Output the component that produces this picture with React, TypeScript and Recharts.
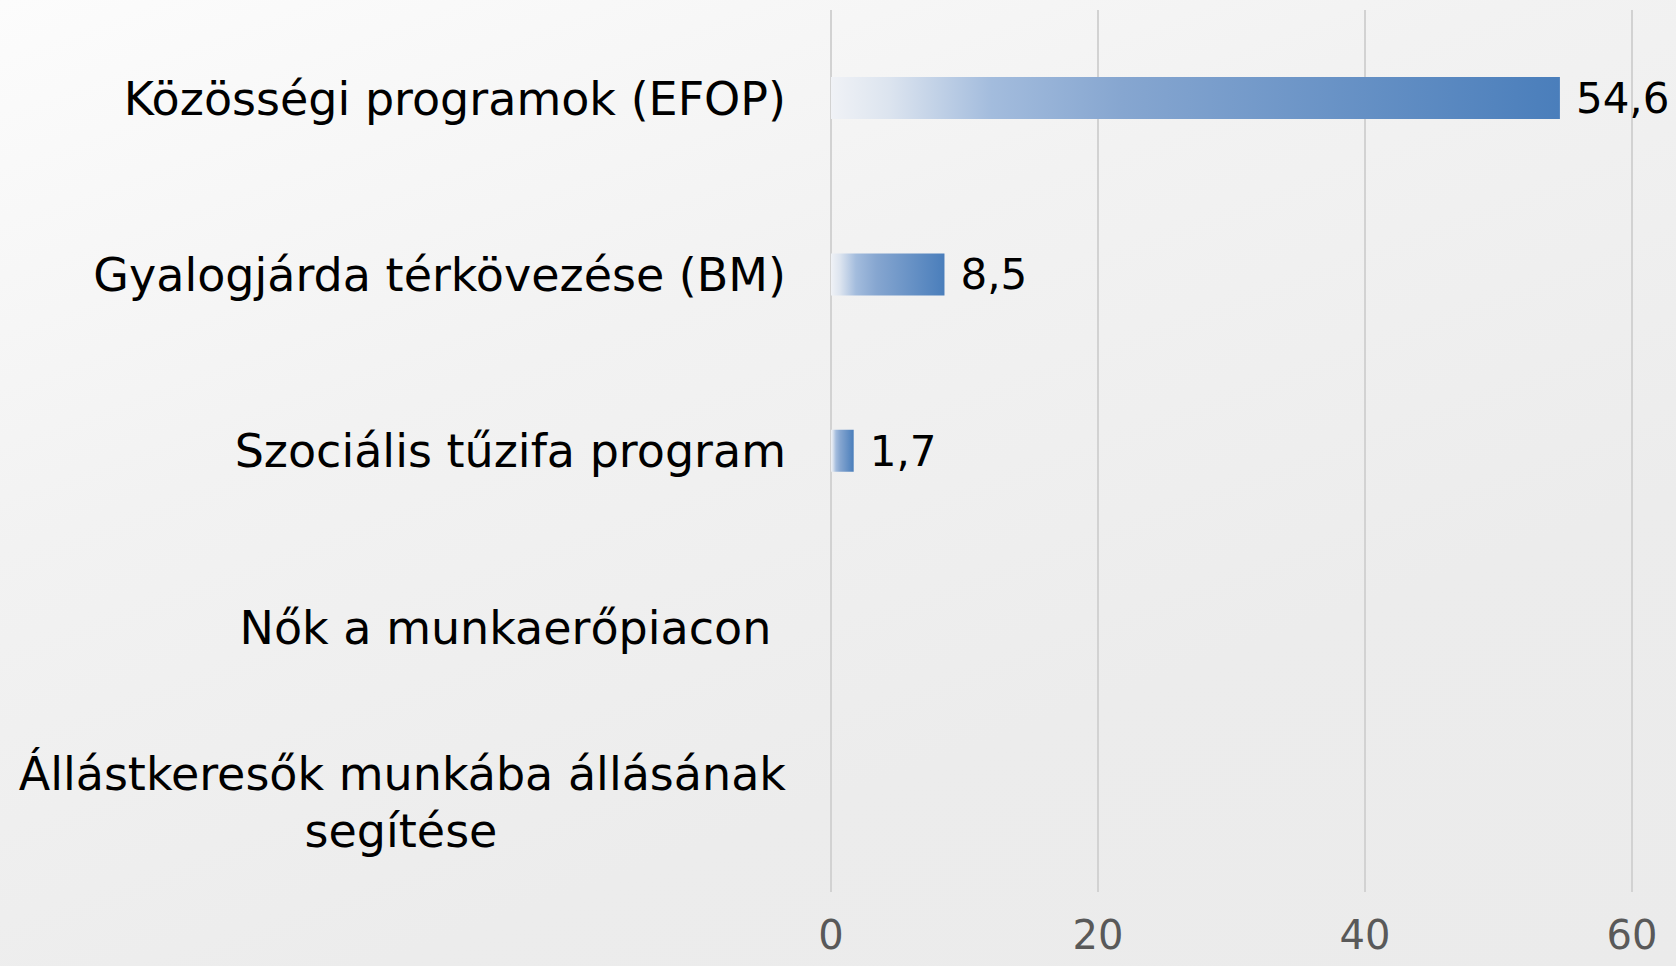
import { BarChart, Bar, XAxis, YAxis, CartesianGrid, LabelList } from 'recharts';

const categories = [
  'Közösségi programok (EFOP)',
  'Gyalogjárda térkövezése (BM)',
  'Szociális tűzifa program',
  'Nők a munkaerőpiacon ',
  'Állástkeresők munkába állásának|segítése',
];
const values: (number | null)[] = [54.6, 8.5, 1.7, null, null];
const xTicks = [0, 20, 40, 60];

const chartData = categories.map((name, i) => ({ name, value: values[i] }));

const FONT = '"DejaVu Sans", sans-serif';

// two-line labels are split on "|": first line right-aligned, second centred under it
function CategoryTick({ x, y, payload }: any) {
  const parts: string[] = String(payload.value).split('|');
  if (parts.length > 1) {
    return (
      <g>
        <text x={x} y={y - 14} textAnchor="end" fontSize={46} fontFamily={FONT} fill="#000">
          {parts[0]}
        </text>
        <text x={x - 385} y={y + 43} textAnchor="middle" fontSize={46} fontFamily={FONT} fill="#000">
          {parts[1]}
        </text>
      </g>
    );
  }
  return (
    <text
      x={x}
      y={y}
      dy="0.355em"
      textAnchor="end"
      fontSize={46}
      fontFamily={FONT}
      fill="#000"
      style={{ whiteSpace: 'pre' }}
    >
      {parts[0]}
    </text>
  );
}

export default function App() {
  return (
    <div
      style={{
        position: 'absolute',
        left: 0,
        top: 0,
        width: 1676,
        height: 966,
        background: 'linear-gradient(160deg, #fcfcfc 0%, #f2f2f2 35%, #ececec 70%, #ebebeb 100%)',
      }}
    >
      <BarChart
        width={1676}
        height={966}
        layout="vertical"
        data={chartData}
        margin={{ top: 10, right: 44, left: 0, bottom: 0 }}
        barSize={42}
      >
        <defs>
          <linearGradient id="barGradient" x1="0" y1="0" x2="1" y2="0">
            <stop offset="0%" stopColor="#f0f2f6" />
            <stop offset="8%" stopColor="#dce4ef" />
            <stop offset="22%" stopColor="#a3bcdd" />
            <stop offset="40%" stopColor="#86a6d0" />
            <stop offset="100%" stopColor="#4a7ebb" />
          </linearGradient>
        </defs>
        <CartesianGrid horizontal={false} stroke="#d2d2d2" strokeWidth={2} />
        <XAxis
          type="number"
          domain={[0, 60]}
          ticks={xTicks}
          axisLine={false}
          tickLine={false}
          tickMargin={23}
          height={74}
          tick={{ fontSize: 40, fill: '#595959', fontFamily: FONT }}
        />
        <YAxis
          type="category"
          dataKey="name"
          width={831}
          axisLine={false}
          tickLine={false}
          tickMargin={39}
          interval={0}
          tick={<CategoryTick />}
        />
        <Bar dataKey="value" fill="url(#barGradient)" isAnimationActive={false}>
          <LabelList
            dataKey="value"
            position="right"
            offset={16}
            fontSize={42}
            fontFamily={FONT}
            fill="#000"
            formatter={(v: any) => (v == null ? '' : String(v).replace('.', ','))}
          />
        </Bar>
      </BarChart>
    </div>
  );
}
